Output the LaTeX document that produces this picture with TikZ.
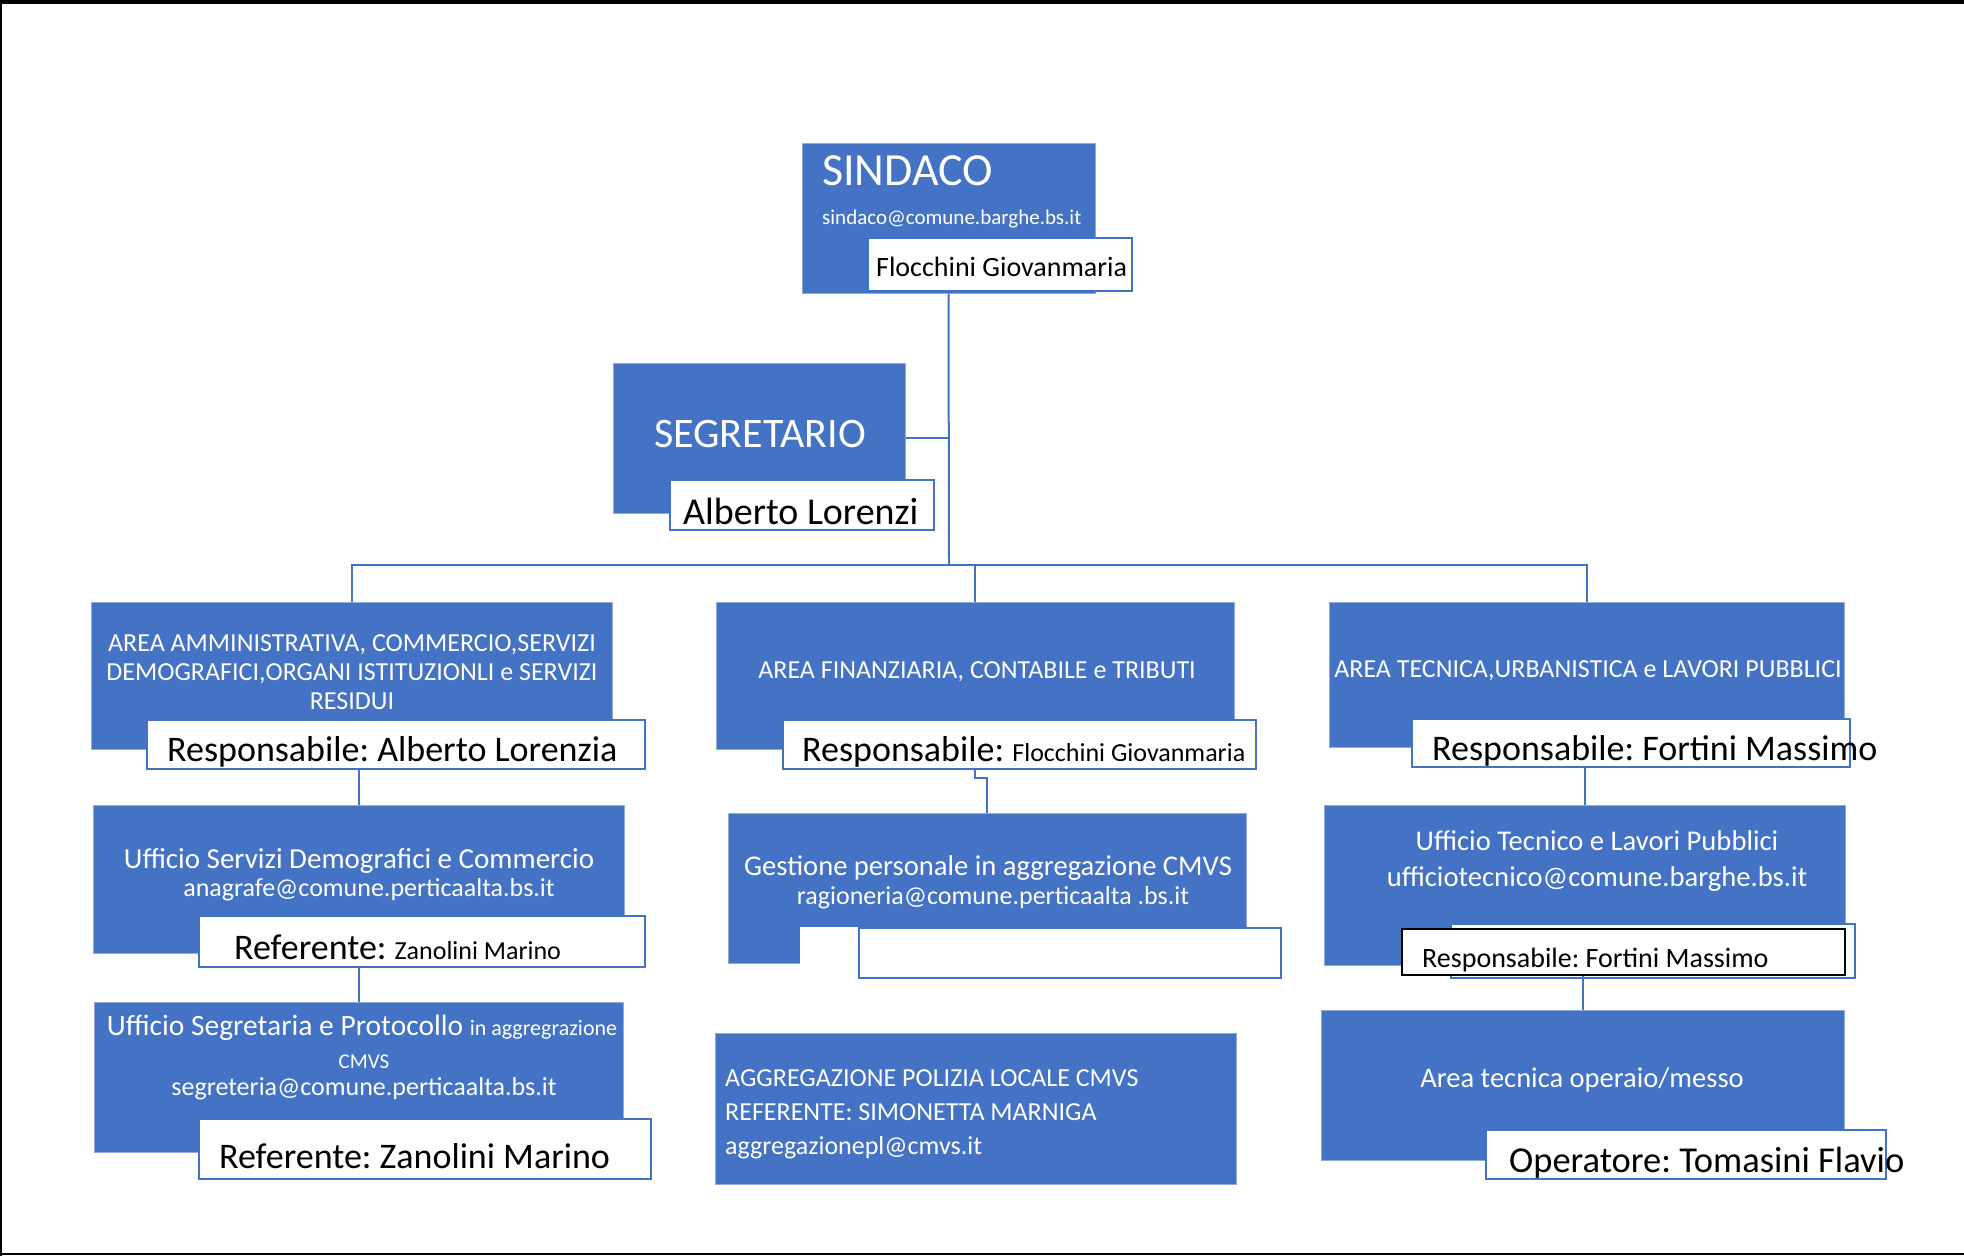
\documentclass[tikz,border=0pt]{standalone}
\usepackage{fontspec}
\setmainfont{Carlito}
\usetikzlibrary{fit}
\definecolor{ofblue}{HTML}{4472C4}
\definecolor{edgeblue}{HTML}{8FAADC}
\newcommand\fsz[2]{\fontsize{#1}{#2}\selectfont}
\frenchspacing
\tikzset{
  bbox/.style={fill=ofblue, draw=edgeblue, line width=1pt, inner sep=0pt},
  wbox/.style={fill=white, draw=ofblue, line width=1.5pt, inner sep=0pt},
  kbox/.style={fill=white, draw=black, line width=1.5pt, inner sep=0pt},
  mask/.style={fill=white, inner sep=0pt},
  conn/.style={draw=ofblue, line width=2pt},
  wt/.style={text=white, inner sep=0pt},
  bt/.style={text=black, inner sep=0pt},
  frame/.style={draw=black}
}
\begin{document}
\begin{tikzpicture}[x=1pt,y=-1pt]
\useasboundingbox (0,0) rectangle (1964,1256);
\fill[white] (0,0) rectangle (1964,1256);
% frame
\draw[frame, line width=4pt] (0,2) -- (1964,2);
\draw[frame, line width=2pt] (1,0) -- (1,1256);
\draw[frame, line width=2pt] (0,1254) -- (1964,1254);

% SINDACO
\node[bbox, fit={(802,143)(1095,293)}] (sind) {};
\node[wbox, fit={(868,238)(1132,291)}] (sindW) {};
\node[wt, anchor=base west, font=\fsz{46}{52}] (sindT) at (822,185) {SINDACO};
\node[wt, anchor=base west, font=\fsz{21}{25}] (sindM) at (822,224) {sindaco@comune.barghe.bs.it};
\node[bt, anchor=base west, font=\fsz{28}{32}] (sindN) at (876,276) {Flocchini Giovanmaria};

% SEGRETARIO
\node[bbox, fit={(613,363)(905,513)}] (seg) {};
\node[wbox, fit={(670,480)(934,530)}] (segW) {};
\node[wt, anchor=base, font=\fsz{42}{48}] (segT) at (760,447) {SEGRETARIO};
\node[bt, anchor=base west, font=\fsz{38}{44}] (segN) at (683,524) {Alberto Lorenzi};

% Row 1
\node[bbox, fit={(91,602)(612,749)}] (a1) {};
\node[wbox, fit={(147,720)(645,769)}] (a1W) {};
\node[wt, align=center, font=\fsz{26}{29}] (a1T) at (352,672) {AREA AMMINISTRATIVA, COMMERCIO,SERVIZI\\DEMOGRAFICI,ORGANI ISTITUZIONLI e SERVIZI\\RESIDUI};
\node[bt, anchor=base west, font=\fsz{36}{40}] (a1N) at (167,761) {Responsabile: Alberto Lorenzia};

\node[bbox, fit={(716,602)(1234,749)}] (a2) {};
\node[wbox, fit={(783,720)(1256,769)}] (a2W) {};
\node[wt, font=\fsz{26}{29}] (a2T) at (977,672) {AREA FINANZIARIA, CONTABILE e TRIBUTI};
\node[bt, anchor=base west] (a2N) at (802,761) {\fsz{36}{40}Responsabile: \fsz{26}{30}Flocchini Giovanmaria};

\node[bbox, fit={(1329,602)(1844,747)}] (a3) {};
\node[wbox, fit={(1412,719)(1850,767)}] (a3W) {};
\node[wt, font=\fsz{26}{29}] (a3T) at (1588,671) {AREA TECNICA,URBANISTICA e LAVORI PUBBLICI};
\node[bt, anchor=base west, font=\fsz{36}{40}] (a3N) at (1432,760) {Responsabile: Fortini Massimo};

% Row 2
\node[bbox, fit={(93,805)(624,953)}] (b1) {};
\node[wbox, fit={(199,916)(645,967)}] (b1W) {};
\node[wt, font=\fsz{29}{33}] (b1T1) at (359,861) {Ufficio Servizi Demografici e Commercio};
\node[wt, font=\fsz{26}{30}] (b1T2) at (369,890) {anagrafe@comune.perticaalta.bs.it};
\node[bt, anchor=base west] (b1N) at (234,959) {\fsz{36}{40}Referente: \fsz{26}{30}Zanolini Marino};

\node[bbox, fit={(728,813)(1246,963)}] (b2) {};
\node[mask, fit={(800,927)(1281,978)}] (b2M) {};
\node[wbox, fit={(859,928)(1281,978)}] (b2W) {};
\node[wt, font=\fsz{28.6}{33}] (b2T1) at (988,868) {Gestione personale in aggregazione CMVS};
\node[wt, font=\fsz{26}{30}] (b2T2) at (993,898) {ragioneria@comune.perticaalta .bs.it};

\node[bbox, fit={(1324,805)(1845,965)}] (b3) {};
\node[wbox, fit={(1451,924)(1855,978)}] (b3B) {};
\node[kbox, fit={(1402,929)(1845,975)}] (b3K) {};
\node[wt, font=\fsz{28.6}{33}] (b3T1) at (1597,841) {Ufficio Tecnico e Lavori Pubblici};
\node[wt, font=\fsz{28.6}{33}] (b3T2) at (1597,879) {ufficiotecnico@comune.barghe.bs.it};
\node[bt, anchor=base west, font=\fsz{28}{32}] (b3N) at (1422,967) {Responsabile: Fortini Massimo};

% Row 3
\node[bbox, fit={(94,1002)(623,1152)}] (c1) {};
\node[wbox, fit={(199,1119)(651,1179)}] (c1W) {};
\node[wt] (c1T1) at (362,1028) {\fsz{29.5}{33}Ufficio Segretaria e Protocollo \fsz{22}{26}in aggregrazione};
\node[wt, font=\fsz{21}{25}] (c1T2) at (364,1062) {CMVS};
\node[wt, font=\fsz{26}{30}] (c1T3) at (364,1089) {segreteria@comune.perticaalta.bs.it};
\node[bt, anchor=base west, font=\fsz{36}{40}] (c1N) at (219,1168) {Referente: Zanolini Marino};

\node[bbox, fit={(715,1033)(1236,1184)}] (c2) {};
\node[wt, anchor=west, align=left, font=\fsz{26}{34}] (c2T) at (725,1114) {AGGREGAZIONE POLIZIA LOCALE CMVS\\REFERENTE: SIMONETTA MARNIGA\\aggregazionepl@cmvs.it};

\node[bbox, fit={(1321,1010)(1844,1160)}] (c3) {};
\node[wbox, fit={(1486,1130)(1886,1179)}] (c3W) {};
\node[wt, font=\fsz{28.5}{32}] (c3T) at (1582,1080) {Area tecnica operaio/messo};
\node[bt, anchor=base west, font=\fsz{36.5}{40}] (c3N) at (1509,1172) {Operatore: Tomasini Flavio};

% Connectors
\coordinate (bus) at (949,565);
\draw[conn] (sind.south) -- (bus);
\draw[conn] (seg.east) -- (seg.east -| bus);
\draw[conn] (a1.north) |- (bus) -| (a3.north);
\draw[conn] (a2.north) -- (a2.north |- bus);
\draw[conn] (b1.north) -- (b1.north |- a1W.south);
\draw[conn] (a2W.south -| a2.south) -- ++(0,8) -| (b2.north);
\draw[conn] (b3.north) -- (b3.north |- a3W.south);
\draw[conn] (c1.north) -- (c1.north |- b1W.south);
\draw[conn] (c3.north) -- (c3.north |- b3K.south);
\end{tikzpicture}
\end{document}
